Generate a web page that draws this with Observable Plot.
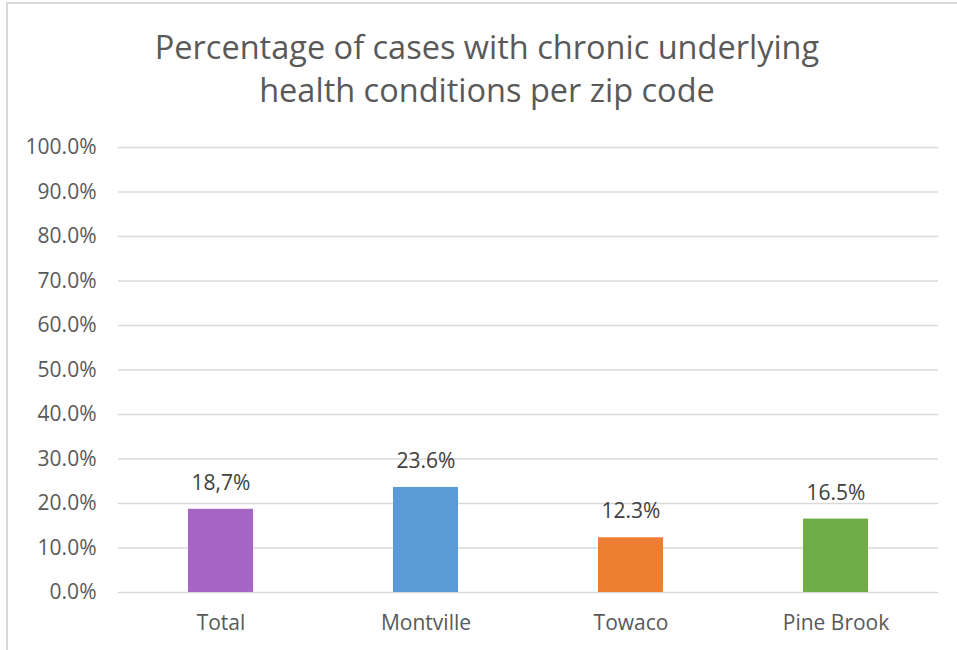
<!DOCTYPE html>
<html>
<head>
<meta charset="utf-8">
<script src="https://cdn.jsdelivr.net/npm/d3@7"></script>
<script src="https://cdn.jsdelivr.net/npm/@observablehq/plot@0.6"></script>
<style>
  html, body { margin: 0; padding: 0; background: #fff; }
  #wrap { position: relative; width: 957px; height: 650px; overflow: hidden; background: #fff; font-family: "Open Sans", sans-serif; }
  #frame { position: absolute; left: 6px; top: 2px; width: 960px; height: 660px; border-left: 2px solid #d9d9d9; border-top: 2px solid #d9d9d9; box-sizing: border-box; }
  #title { position: absolute; left: 0; top: 25px; width: 974px; text-align: center; font-size: 32.5px; line-height: 43px; color: #595959; }
  #chart { position: absolute; left: 0; top: 120px; }
</style>
</head>
<body>
<div id="wrap">
  <div id="frame"></div>
  <div id="title">Percentage of cases with chronic underlying<br>health conditions per zip code</div>
  <div id="chart"></div>
</div>
<script>
const categories = ["Total", "Montville", "Towaco", "Pine Brook"];
const values = [0.187, 0.236, 0.123, 0.165];
const valueLabels = ["18,7%", "23.6%", "12.3%", "16.5%"];
const barColors = ["#A566C5", "#5B9BD5", "#ED7D31", "#70AD47"];
const yTicks = [0, 0.1, 0.2, 0.3, 0.4, 0.5, 0.6, 0.7, 0.8, 0.9, 1.0];

const data = categories.map((c, i) => ({cat: c, value: values[i], label: valueLabels[i]}));

const chart = Plot.plot({
  width: 957,
  height: 530,
  marginTop: 27,
  marginBottom: 58,
  marginLeft: 118,
  marginRight: 19,
  style: {fontFamily: "Open Sans", fontSize: "21px", color: "#595959", background: "transparent"},
  x: {domain: categories, padding: 0, label: null},
  y: {domain: [0, 1], label: null},
  color: {domain: categories, range: barColors},
  marks: [
    Plot.gridY(yTicks, {stroke: "#d9d9d9", strokeOpacity: 1, strokeWidth: 1.5}),
    Plot.barY(data, {x: "cat", y: "value", fill: "cat", insetLeft: 70, insetRight: 70}),
    Plot.text(data, {x: "cat", y: "value", text: "label", dy: -26, fill: "#404040", fontSize: 21}),
    Plot.axisX({tickSize: 0, tickPadding: 23, fontSize: 21, label: null}),
    Plot.axisY({ticks: yTicks, tickFormat: d3.format(".1%"), tickSize: 0, tickPadding: 22, fontSize: 21, label: null})
  ]
});
document.getElementById("chart").appendChild(chart);
</script>
</body>
</html>
